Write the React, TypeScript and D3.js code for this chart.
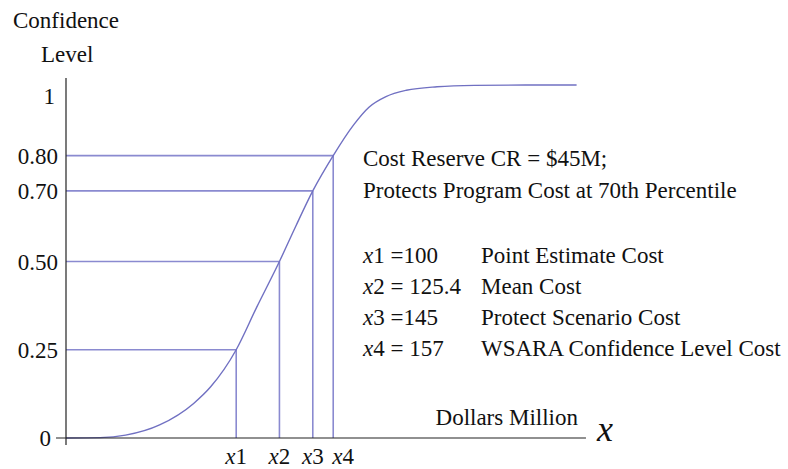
import React from "react";
import * as d3 from "d3";

// Cumulative distribution (cost in $M, confidence level)
const curveCost = [0, 20, 35, 55, 75, 85, 100, 112, 125.4, 135, 145, 157, 169, 178, 188, 200, 218, 240, 270, 300];
const curveLevel = [0, 0.001, 0.008, 0.037, 0.098, 0.145, 0.25, 0.37, 0.5, 0.6, 0.7, 0.8, 0.887, 0.937, 0.967, 0.985, 0.995, 0.999, 1, 1];

// Marked points
const markerNames = ["x1", "x2", "x3", "x4"];
const markerCost = [100, 125.4, 145, 157];
const markerLevel = [0.25, 0.5, 0.7, 0.8];

// Y tick labels
const yTickValues = [0, 0.25, 0.5, 0.7, 0.8, 1];
const yTickLabels = ["0", "0.25", "0.50", "0.70", "0.80", "1"];

// Annotation text
const headerLines = ["Cost Reserve CR = $45M;", "Protects Program Cost at 70th Percentile"];
const legendNames = ["x1", "x2", "x3", "x4"];
const legendValues = [" =100", " = 125.4", " =145", " = 157"];
const legendDescriptions = ["Point Estimate Cost", "Mean Cost", "Protect Scenario Cost", "WSARA Confidence Level Cost"];

const W = 788;
const H = 469;
const FONT = "'Liberation Serif', 'DejaVu Serif', serif";
const LINE = "#8a8ad0";
const CURVE = "#7070c2";
const AXIS = "#222";

export default function App() {
  const x = d3.scaleLinear().domain([0, 300]).range([66, 576.6]);
  const y = d3.scaleLinear().domain([0, 1]).range([438, 85]);

  const pts = curveCost.map((c, i) => [c, curveLevel[i]] as [number, number]);
  const line = d3
    .line<[number, number]>()
    .x((d) => x(d[0]))
    .y((d) => y(d[1]))
    .curve(d3.curveMonotoneX);

  const ts = { fontFamily: FONT, fontSize: 23, fill: "#111" } as React.CSSProperties;

  return (
    <svg
      width={W}
      height={H}
      style={{ position: "absolute", left: 0, top: 0, background: "#fff", fontFamily: FONT }}
    >
      {/* axis titles */}
      <text x={13} y={28} style={ts}>Confidence</text>
      <text x={41} y={62} style={ts}>Level</text>

      {/* drop lines */}
      {markerCost.map((c, i) => (
        <g key={"m" + i}>
          <line x1={x(0)} x2={x(c)} y1={y(markerLevel[i])} y2={y(markerLevel[i])} stroke={LINE} strokeWidth={1.6} />
          <line x1={x(c)} x2={x(c)} y1={y(0)} y2={y(markerLevel[i])} stroke={LINE} strokeWidth={1.6} />
        </g>
      ))}

      {/* curve */}
      <path d={line(pts) || ""} fill="none" stroke={CURVE} strokeWidth={1.4} />

      {/* axes */}
      <line x1={x(0)} x2={x(0)} y1={y(1.02)} y2={y(-0.02)} stroke={AXIS} strokeWidth={1.2} />
      <line x1={x(-5.9)} x2={x(305.5)} y1={y(0)} y2={y(0)} stroke={AXIS} strokeWidth={1.2} />

      {/* y tick labels */}
      {yTickValues.map((v, i) => {
        const lab = yTickLabels[i];
        const endX = lab.length > 1 ? 58 : lab === "0" ? 51 : 55;
        const dy = lab === "1" ? 11 : 0;
        return (
          <text key={"yt" + i} x={endX} y={y(v) + dy} dy="0.35em" textAnchor="end" style={ts}>
            {lab}
          </text>
        );
      })}

      {/* x marker labels */}
      {markerNames.map((n, i) => {
        const last = i === markerNames.length - 1;
        return (
          <text
            key={"xl" + i}
            x={last ? x(markerCost[i]) - 1 : x(markerCost[i])}
            y={464}
            textAnchor={last ? "start" : "middle"}
            style={ts}
          >
            <tspan fontStyle="italic">{n[0]}</tspan>
            {n.slice(1)}
          </text>
        );
      })}

      {/* x axis title */}
      <text x={578} y={425} textAnchor="end" style={ts}>Dollars Million</text>
      <text x={597} y={441} fontStyle="italic" style={{ ...ts, fontSize: 36 }}>x</text>

      {/* header annotation */}
      {headerLines.map((t, i) => (
        <text key={"h" + i} x={363} y={166 + i * 32} style={ts}>{t}</text>
      ))}

      {/* legend */}
      {legendNames.map((n, i) => (
        <g key={"lg" + i}>
          <text x={363} y={263 + i * 31} style={ts}>
            <tspan fontStyle="italic">{n[0]}</tspan>
            {n.slice(1) + legendValues[i]}
          </text>
          <text x={481} y={263 + i * 31} style={ts}>{legendDescriptions[i]}</text>
        </g>
      ))}
    </svg>
  );
}
